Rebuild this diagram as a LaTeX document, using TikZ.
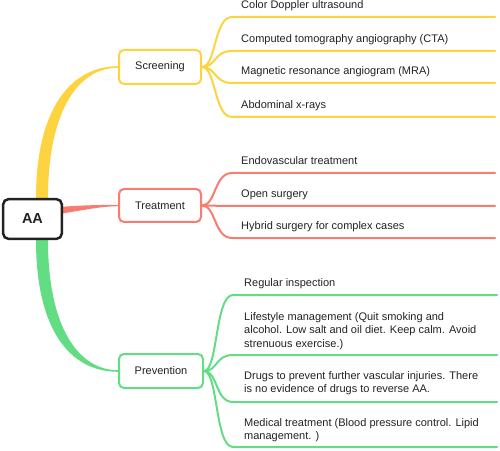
\documentclass[tikz,border=0pt]{standalone}
\usepackage{fontspec}
\setmainfont{Liberation Sans}
\usetikzlibrary{backgrounds}
\definecolor{cy}{HTML}{FDD33F}
\definecolor{cr}{HTML}{F87C6F}
\definecolor{cg}{HTML}{63DD84}
\definecolor{tx}{HTML}{222222}
\begin{document}
\begin{tikzpicture}[x=1bp,y=-1bp,
  every node/.style={text=tx},
  leaf/.style={anchor=north west, yshift=9.45bp, inner sep=0pt, align=left,
    font=\fontsize{11bp}{13.5bp}\selectfont},
  topic/.style={line width=2bp, rounded corners=5bp, fill=white,
    minimum height=34bp, inner sep=0pt, font=\fontsize{11bp}{13.5bp}\selectfont},
  link/.style={line width=2bp, line cap=round},
]
\useasboundingbox (0,0) rectangle (500,451);

% central and main topics
\node[draw=tx, line width=2.5bp, rounded corners=5bp, fill=white,
  minimum width=58.5bp, minimum height=39.5bp, inner sep=0pt,
  font=\bfseries\fontsize{14.5bp}{17bp}\selectfont] (aa) at (32.5,219) {AA};
\node[topic, draw=cy, minimum width=82bp] (scr) at (160,67) {Screening};
\node[topic, draw=cr, minimum width=82bp, minimum height=33bp] (trt) at (160,205.5) {Treatment};
\node[topic, draw=cg, minimum width=84bp] (prev) at (161,371) {Prevention};

% tapered branches
\begin{scope}[on background layer]
\fill[cy] ([xshift=3.5bp,yshift=-4bp]aa.north) -- ([xshift=3.5bp]aa.north)
  .. controls (36,110) and (70,66.3) .. ([yshift=0.8bp]scr.west)
  -- ([yshift=-0.8bp]scr.west)
  .. controls (76,67.8) and (48,115) .. ([xshift=15.5bp]aa.north)
  -- ([xshift=15.5bp,yshift=-4bp]aa.north) -- cycle;
\fill[cg] ([xshift=3.5bp,yshift=4bp]aa.south) -- ([xshift=3.5bp]aa.south)
  .. controls (36,330) and (70,371.8) .. ([yshift=-0.8bp]prev.west)
  -- ([yshift=0.8bp]prev.west)
  .. controls (80,370.2) and (48,330) .. ([xshift=15.5bp]aa.south)
  -- ([xshift=15.5bp,yshift=4bp]aa.south) -- cycle;
\fill[cr] ([xshift=-4bp,yshift=12bp]aa.east)
  .. controls (85,205) and (100,205) .. ([yshift=0.7bp]trt.west)
  -- ([yshift=-0.7bp]trt.west)
  .. controls (100,206.4) and (85,210) .. ([xshift=-4bp,yshift=5bp]aa.east)
  -- cycle;
\end{scope}

% screening leaves
\coordinate (s1) at (232,17);  \coordinate (s1e) at (495,17);
\coordinate (s2) at (232,51);  \coordinate (s2e) at (495,51);
\coordinate (s3) at (232,83);  \coordinate (s3e) at (495,83);
\coordinate (s4) at (232,117); \coordinate (s4e) at (495,117);
\draw[link,cy] (scr.east) .. controls (216,67) and (214,17) .. (s1) -- (s1e);
\draw[link,cy] (scr.east) .. controls (216,67) and (214,51) .. (s2) -- (s2e);
\draw[link,cy] (scr.east) .. controls (216,67) and (214,83) .. (s3) -- (s3e);
\draw[link,cy] (scr.east) .. controls (216,67) and (214,117) .. (s4) -- (s4e);
\node[leaf] (l1) at (241,8.5) {\strut Color Doppler ultrasound};
\node[leaf] (l2) at (241,42.5) {\strut Computed tomography angiography (CTA)};
\node[leaf] (l3) at (241,74.5) {\strut Magnetic resonance angiogram (MRA)};
\node[leaf] (l4) at (241,108.5) {\strut Abdominal x-rays};

% treatment leaves
\coordinate (t1) at (232,173); \coordinate (t1e) at (495,173);
\coordinate (t2) at (232,206); \coordinate (t2e) at (495,206);
\coordinate (t3) at (232,238); \coordinate (t3e) at (495,238);
\draw[link,cr] (trt.east) .. controls (216,205.5) and (214,173) .. (t1) -- (t1e);
\draw[link,cr] (trt.east) .. controls (216,205.5) and (214,206) .. (t2) -- (t2e);
\draw[link,cr] (trt.east) .. controls (216,205.5) and (214,238) .. (t3) -- (t3e);
\node[leaf] (m1) at (241,164.5) {\strut Endovascular treatment};
\node[leaf] (m2) at (241,197.5) {\strut Open surgery};
\node[leaf] (m3) at (241,229.5) {\strut Hybrid surgery for complex cases};

% prevention leaves
\coordinate (p1) at (233,295); \coordinate (p1e) at (497,295);
\coordinate (p2) at (233,355); \coordinate (p2e) at (497,355);
\coordinate (p3) at (233,402); \coordinate (p3e) at (497,402);
\coordinate (p4) at (233,447); \coordinate (p4e) at (497,447);
\draw[link,cg] (prev.east) .. controls (218,371) and (215,295) .. (p1) -- (p1e);
\draw[link,cg] (prev.east) .. controls (218,371) and (215,355) .. (p2) -- (p2e);
\draw[link,cg] (prev.east) .. controls (218,371) and (215,402) .. (p3) -- (p3e);
\draw[link,cg] (prev.east) .. controls (218,371) and (215,447) .. (p4) -- (p4e);
\node[leaf] (n1) at (244,286.5) {\strut Regular inspection};
\node[leaf] (n2) at (244,320) {\strut Lifestyle management (Quit smoking and\\
  alcohol. Low salt and oil diet. Keep calm. Avoid\\ strenuous exercise.)};
\node[leaf] (n3) at (244,379) {\strut Drugs to prevent further vascular injuries. There\\
  is no evidence of drugs to reverse AA.};
\node[leaf] (n4) at (244,426) {\strut Medical treatment (Blood pressure control. Lipid\\
  management. )};
\end{tikzpicture}
\end{document}
